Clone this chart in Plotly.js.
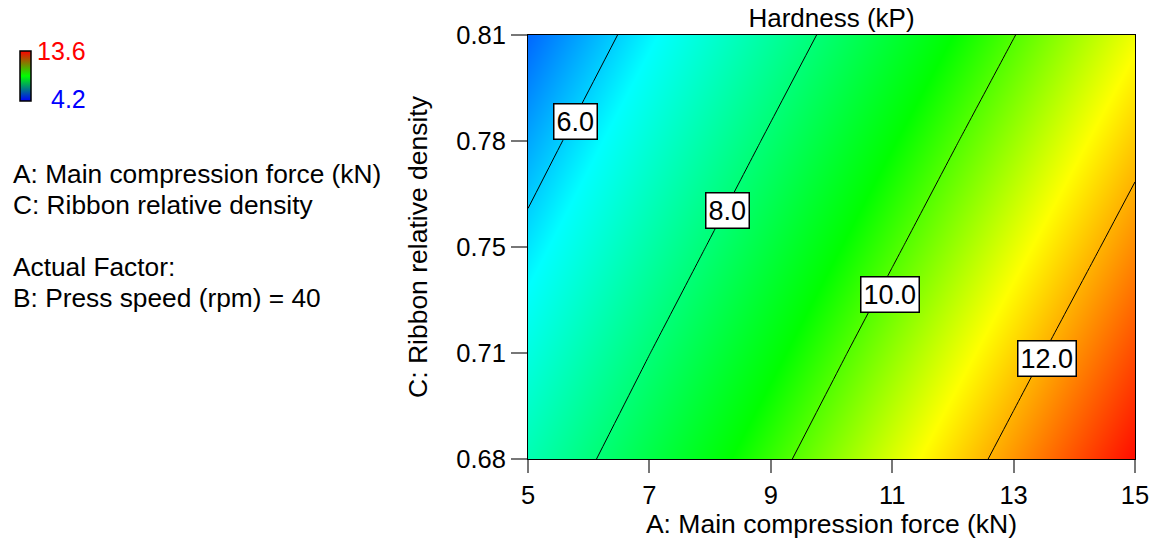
<!DOCTYPE html>
<html>
<head>
<meta charset="utf-8">
<script src="https://cdn.plot.ly/plotly-3.0.1.min.js"></script>
<style>
html,body{margin:0;padding:0;background:#fff;}
#chart{width:1151px;height:548px;}
</style>
</head>
<body>
<div id="chart"></div>
<script>
// ---- data ----
const forceA = [5, 7, 9, 11, 13, 15];                    // A: Main compression force (kN)
const densityC = [0.68, 0.7125, 0.745, 0.7775, 0.81];    // C: Ribbon relative density
const hardness = [                                       // Hardness (kP), rows follow densityC
  [7.30, 8.54, 9.78, 11.02, 12.26, 13.50],
  [6.75, 7.99, 9.22, 10.46, 11.69, 12.93],
  [6.20, 7.43, 8.66, 9.89, 11.12, 12.35],
  [5.65, 6.88, 8.10, 9.33, 10.55, 11.78],
  [5.10, 6.32, 7.54, 8.76, 9.98, 11.20]
];
const hardMin = 4.2, hardMax = 13.6;                     // design-space range shown in the key
const contourLevels = [6, 8, 10, 12];
const labelText = ['6.0', '8.0', '10.0', '12.0'];
const labelA = [5.78, 8.29, 10.96, 13.55];
const labelC = [0.7835, 0.7562, 0.7304, 0.7107];
const xTicks = [5, 7, 9, 11, 13, 15];
const yTickVals = [0.68, 0.7125, 0.745, 0.7775, 0.81];
const yTickText = ['0.68', '0.71', '0.75', '0.78', '0.81'];
const sideText = ['A: Main compression force (kN)', 'C: Ribbon relative density', 'Actual Factor:', 'B: Press speed (rpm) = 40'];

// ---- layout geometry ----
const W = 1151, H = 548;
const M = {l: 528, r: 16, t: 35, b: 89};
const PW = W - M.l - M.r, PH = H - M.t - M.b;
const px = x => (x - M.l) / PW;
const py = y => (H - M.b - y) / PH;
const FONT = 'Arial, "Liberation Sans", sans-serif';

const surfaceScale = [
  [0, 'rgb(0,0,255)'],
  [0.235, 'rgb(0,255,255)'],
  [0.55, 'rgb(0,255,0)'],
  [0.755, 'rgb(255,255,0)'],
  [1, 'rgb(255,0,0)']
];
const keyScale = [
  [0, 'rgb(0,0,255)'],
  [0.5, 'rgb(0,255,0)'],
  [1, 'rgb(255,0,0)']
];

const surface = {
  type: 'contour',
  x: forceA, y: densityC, z: hardness,
  zmin: hardMin, zmax: hardMax, zauto: false,
  colorscale: surfaceScale,
  showscale: false,
  contours: {
    coloring: 'heatmap',
    start: contourLevels[0], end: contourLevels[contourLevels.length - 1], size: 2,
    showlines: true, showlabels: false
  },
  line: {color: '#000', width: 1, smoothing: 0},
  hovertemplate: 'A: %{x}<br>C: %{y}<br>Hardness: %{z:.2f}<extra></extra>'
};

// colour key (only its colour bar is shown)
const key = {
  type: 'heatmap',
  x: [0, 1], y: [0, 1],
  z: [[hardMin, hardMin], [hardMax, hardMax]],
  zmin: hardMin, zmax: hardMax, zauto: false,
  colorscale: keyScale,
  xaxis: 'x2', yaxis: 'y2',
  opacity: 0, hoverinfo: 'skip',
  showscale: true,
  colorbar: {
    x: px(20), xanchor: 'left', xref: 'paper', xpad: 0,
    y: py(75.5), yanchor: 'middle', ypad: 0,
    thickness: 11, thicknessmode: 'pixels',
    len: 50, lenmode: 'pixels',
    outlinewidth: 1.5, outlinecolor: '#000',
    showticklabels: false, ticks: ''
  }
};

const annotations = [];
for (let i = 0; i < labelText.length; i++) {
  annotations.push({
    x: labelA[i], y: labelC[i], xref: 'x', yref: 'y',
    text: labelText[i], showarrow: false,
    font: {family: FONT, size: 27, color: '#000'},
    bgcolor: '#fff', bordercolor: '#000', borderwidth: 1.5, borderpad: 2
  });
}
annotations.push({xref: 'paper', yref: 'paper', x: px(88), y: py(51), xanchor: 'right', yanchor: 'middle',
  text: String(hardMax), showarrow: false, font: {family: FONT, size: 25, color: '#ff0000'}});
annotations.push({xref: 'paper', yref: 'paper', x: px(88), y: py(99), xanchor: 'right', yanchor: 'middle',
  text: String(hardMin), showarrow: false, font: {family: FONT, size: 25, color: '#0000ff'}});
const sideY = [174, 205, 267, 298];
sideText.forEach((t, i) => {
  annotations.push({xref: 'paper', yref: 'paper', x: px(11), y: py(sideY[i]), xanchor: 'left', yanchor: 'middle',
    text: t, showarrow: false, font: {family: FONT, size: 26.3, color: '#000'}});
});

const axisCommon = {
  showgrid: false, zeroline: false,
  showline: true, linecolor: '#000', linewidth: 1, mirror: true,
  ticks: 'outside', tickcolor: '#777', tickwidth: 2,
  tickfont: {family: FONT, size: 25.5, color: '#000'}
};

const layout = {
  width: W, height: H,
  margin: M,
  paper_bgcolor: '#fff', plot_bgcolor: '#fff',
  showlegend: false,
  title: {text: 'Hardness (kP)', font: {family: FONT, size: 26, color: '#000'},
    x: 0.5, xref: 'paper', xanchor: 'center', y: 1 - 18 / H, yref: 'container', yanchor: 'middle'},
  xaxis: Object.assign({}, axisCommon, {
    range: [5, 15], tickvals: xTicks, ticklen: 13,
    title: {text: 'A: Main compression force (kN)', font: {family: FONT, size: 26.5, color: '#000'}, standoff: 5}
  }),
  yaxis: Object.assign({}, axisCommon, {
    range: [0.68, 0.81], tickvals: yTickVals, ticktext: yTickText, ticklen: 16,
    title: {text: 'C: Ribbon relative density', font: {family: FONT, size: 26.5, color: '#000'}, standoff: 20}
  }),
  xaxis2: {visible: false, overlaying: 'x', range: [10, 11], fixedrange: true},
  yaxis2: {visible: false, overlaying: 'y', range: [10, 11], fixedrange: true},
  annotations: annotations
};

Plotly.newPlot('chart', [surface, key], layout, {displayModeBar: false});
</script>
</body>
</html>
